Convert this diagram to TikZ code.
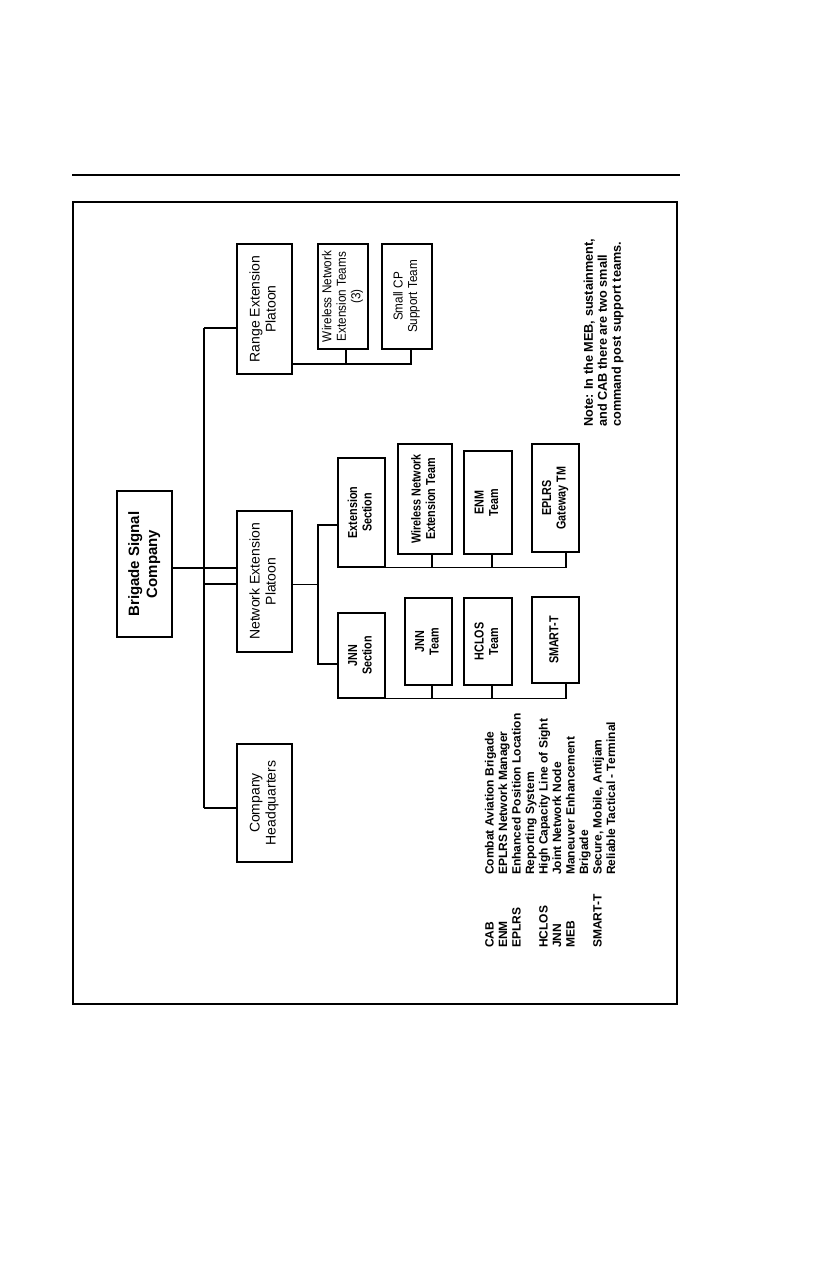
\documentclass[tikz,border=0pt]{standalone}
\usepackage{fontspec}
\setmainfont{Liberation Sans}
\usepackage{graphicx}
\usepackage{array}
\newcommand{\rtext}[1]{\rotatebox{90}{\begin{tabular}{@{}c@{}}#1\end{tabular}}}
\newcommand{\rtextc}[2][0.83]{\rotatebox{90}{\scalebox{#1}[1]{\begin{tabular}{@{}c@{}}#2\end{tabular}}}}
\begin{document}
\begin{tikzpicture}[x=1pt,y=-1pt,
  box/.style={draw, line width=1.4pt, inner sep=0pt, align=center},
  big/.style={font=\fontsize{14}{16}\selectfont},
  mid/.style={font=\fontsize{13}{14.5}\selectfont},
  team/.style={font=\bfseries\fontsize{13}{14.5}\selectfont},
  conn/.style={line width=1.4pt},
  thinconn/.style={line width=0.8pt}]
\useasboundingbox (0,0) rectangle (825,1275);
% page rule and frame
\draw[line width=2pt] (72,175) -- (680,175);
\draw[line width=2.5pt] (73,202) rectangle (677,1004);

% main boxes
\node[box, minimum width=55pt, minimum height=146pt, font=\bfseries\fontsize{15}{18}\selectfont] (bsc) at (144.5,564) {\rtext{Brigade Signal\\Company}};
\node[box, big, minimum width=55pt, minimum height=130pt] (rep) at (264.5,309) {\rtext{Range Extension\\Platoon}};
\node[box, big, minimum width=55pt, minimum height=141pt] (nep) at (264.5,581.5) {\rtext{Network Extension\\Platoon}};
\node[box, big, minimum width=55pt, minimum height=118pt] (chq) at (264.5,803) {\rtext{Company\\Headquarters}};

% range extension teams
\node[box, mid, minimum width=50pt, minimum height=105pt] (wnet) at (343,296.5) {\rtextc[0.9]{Wireless Network\\Extension Teams\\(3)}};
\node[box, mid, minimum width=50pt, minimum height=105pt] (scp) at (407,296.5) {\rtextc[0.9]{Small CP\\Support Team}};

% extension section
\node[box, team, minimum width=47pt, minimum height=109pt] (exs) at (361.5,512.5) {\rtextc{Extension\\Section}};
\node[box, team, minimum width=54pt, minimum height=110pt] (wnt) at (425,499) {\rtextc{Wireless Network\\Extension Team}};
\node[box, team, minimum width=48pt, minimum height=103pt] (enm) at (488,502.5) {\rtextc{ENM\\Team}};
\node[box, team, minimum width=47pt, minimum height=108pt] (epl) at (555.5,498) {\rtextc{EPLRS\\Gateway TM}};

% JNN section
\node[box, team, minimum width=47pt, minimum height=85pt] (jns) at (361.5,655.5) {\rtextc{JNN\\Section}};
\node[box, team, minimum width=47pt, minimum height=87pt] (jnt) at (428.5,641.5) {\rtextc{JNN\\Team}};
\node[box, team, minimum width=48pt, minimum height=87pt] (hcl) at (488,641.5) {\rtextc{HCLOS\\Team}};
\node[box, team, minimum width=47pt, minimum height=86pt] (smt) at (555.5,640) {\rtextc{SMART-T}};

% trunk connectors
\coordinate (tA) at (204,328);
\coordinate (tB) at (204,808);
\coordinate (bL) at (204,568);
\coordinate (nL) at (204,584);
\draw[conn] (tA) -- (tB);
\draw[conn] (tA) -- (tA -| rep.west);
\draw[conn] (bL -| bsc.east) -- (bL) -- (bL -| nep.west);
\draw[conn] (nL) -- (nL -| nep.west);
\draw[conn] (tB) -- (tB -| chq.west);

% range extension bus
\coordinate (rB) at (0,364);
\coordinate (wx1) at (346,0);
\coordinate (wx2) at (411,0);
\draw[conn] (rB -| rep.east) -- (rB -| wx2) -- (wx2 |- scp.south);
\draw[conn] (wx1 |- wnet.south) -- (wx1 |- rB);

% network extension sub-trunk
\coordinate (sX) at (318,0);
\coordinate (sT) at (318,525);
\coordinate (sB) at (318,664);
\draw[thinconn] (nL -| nep.east) -- (nL -| sX);
\draw[conn] (sT -| exs.west) -- (sT) -- (sB) -- (sB -| jns.west);

% team buses
\coordinate (c1) at (432,0);
\coordinate (c2) at (492,0);
\coordinate (c3) at (566,0);
\draw[conn] (exs.south east) -- (c3 |- exs.south) -- (c3 |- epl.south);
\draw[conn] (c1 |- wnt.south) -- (c1 |- exs.south);
\draw[conn] (c2 |- enm.south) -- (c2 |- exs.south);
\draw[conn] (jns.south east) -- (c3 |- jns.south) -- (c3 |- smt.south);
\draw[conn] (c1 |- jnt.south) -- (c1 |- jns.south);
\draw[conn] (c2 |- hcl.south) -- (c2 |- jns.south);

% note
\node[anchor=south, inner sep=0pt, font=\bfseries\fontsize{12.7}{14}\selectfont] (note) at (604,427)
  {\rotatebox{90}{\begin{tabular}{@{}l@{}}Note: In the MEB, sustainment,\\and CAB there are two small\\command post support teams.\end{tabular}}};

% legend
\node[anchor=south west, inner sep=0pt, font=\bfseries\fontsize{12}{13.5}\selectfont] (legend) at (484,948)
  {\rotatebox{90}{\begin{tabular}{@{}p{73pt}@{}l@{}}
  CAB & Combat Aviation Brigade\\
  ENM & EPLRS Network Manager\\
  EPLRS & Enhanced Position Location\\
   & Reporting System\\
  HCLOS & High Capacity Line of Sight\\
  JNN & Joint Network Node\\
  MEB & Maneuver Enhancement\\
   & Brigade\\
  SMART-T & Secure, Mobile, Antijam\\
   & Reliable Tactical - Terminal
  \end{tabular}}};
\end{tikzpicture}
\end{document}
